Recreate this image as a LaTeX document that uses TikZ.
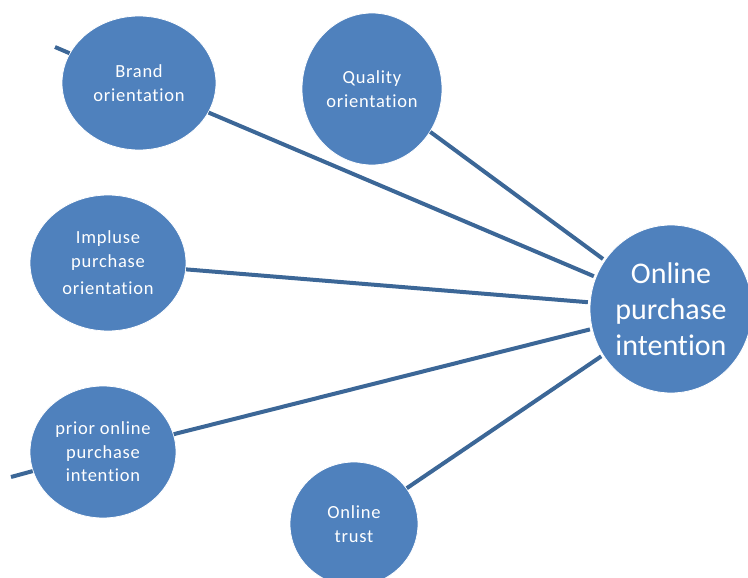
\documentclass[tikz,border=0pt]{standalone}
\usepackage{fontspec}
\setmainfont{Carlito}[Ligatures=NoCommon]
\newfontfamily\widefont{Carlito}[Ligatures=NoCommon, LetterSpace=4]
\usetikzlibrary{shapes.geometric}
\definecolor{nodeblue}{HTML}{4F81BD}
\definecolor{lineblue}{HTML}{3C6797}
\tikzset{
  bubble/.style={ellipse, fill=nodeblue, draw=white, line width=0.8pt, inner sep=0pt, text=white, align=center},
  small/.style={bubble, font=\widefont\fontsize{18.5}{23.5}\selectfont},
  big/.style={bubble, font=\fontsize{30}{36}\selectfont},
  link/.style={draw=lineblue, line width=4pt}
}
\begin{document}
\begin{tikzpicture}[x=1pt,y=-1pt]
\useasboundingbox (0,0) rectangle (748,578);
\coordinate (tl) at (55,47);
\coordinate (bl) at (11,477);
\node[small, minimum width=154, minimum height=134] (brand) at (139,83) {Brand\\orientation};
\node[small, minimum width=140, minimum height=152] (quality) at (372,89) {Quality\\orientation};
\node[small, minimum width=156, minimum height=136] (impulse) at (108,263) {Impluse\\purchase\\[4pt]orientation};
\node[small, minimum width=146, minimum height=132] (prior) at (103,452) {prior online\\purchase\\intention};
\node[small, minimum width=128, minimum height=124] (trust) at (354,524) {Online\\trust};
\node[big, minimum width=162, minimum height=168] (opi) at (671,309) {Online\\purchase\\intention};
\draw[link, shorten >=2pt] (brand) -- (opi);
\draw[link, shorten >=2pt] (quality) -- (opi);
\draw[link, shorten >=2pt] (impulse) -- (opi);
\draw[link, shorten >=2pt] (prior) -- (opi);
\draw[link, shorten >=2pt] (trust) -- (opi);
\draw[link] (brand) -- (tl);
\draw[link] (prior) -- (bl);
\end{tikzpicture}
\end{document}
